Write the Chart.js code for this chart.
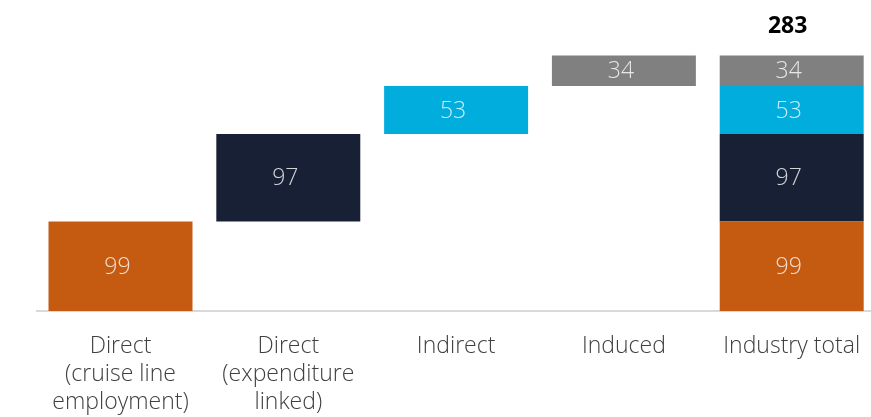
<!DOCTYPE html>
<html>
<head>
<meta charset="utf-8">
<script src="https://cdn.jsdelivr.net/npm/chart.js@4"></script>
<style>
  html, body { margin: 0; padding: 0; background: #fff; overflow: hidden; }
  #wrap { position: relative; width: 880px; height: 417px; }
</style>
</head>
<body>
<div id="wrap"><canvas id="chart"></canvas></div>
<script>
// categories and component values (thousands of jobs)
const categories = [
  ['Direct', '(cruise line', 'employment)'],
  ['Direct', '(expenditure', 'linked)'],
  'Indirect',
  'Induced',
  'Industry total'
];
const componentNames = ['Direct (cruise line employment)', 'Direct (expenditure linked)', 'Indirect', 'Induced'];
const componentValues = [99, 97, 53, 34];
const componentColors = ['#C55A11', '#182035', '#00ADDC', '#808080'];
const totalLabel = 283;

// build floating bars: each component floats in its own column and stacks in the total column
const datasets = [];
let running = 0;
componentValues.forEach((v, i) => {
  const range = [running, running + v];
  const data = categories.map((c, j) => (j === i || j === categories.length - 1) ? range : null);
  datasets.push({
    label: componentNames[i],
    data: data,
    backgroundColor: componentColors[i],
    borderWidth: 0,
    grouped: false,
    barPercentage: 0.858,
    categoryPercentage: 1
  });
  running += v;
});

const font = "'Open Sans', 'DejaVu Sans', sans-serif";

const valueLabels = {
  id: 'valueLabels',
  afterDatasetsDraw(chart) {
    const ctx = chart.ctx;
    ctx.save();
    ctx.textAlign = 'center';
    ctx.textBaseline = 'middle';
    ctx.font = '300 23px ' + font;
    ctx.fillStyle = 'rgba(255,255,255,0.8)';
    chart.data.datasets.forEach((ds, i) => {
      chart.getDatasetMeta(i).data.forEach((bar, j) => {
        if (!ds.data[j]) return;
        const mid = (bar.y + bar.base) / 2;
        ctx.fillText(componentValues[i], bar.x - 3, mid + 1);
      });
    });
    // total label above the last column
    const last = chart.getDatasetMeta(chart.data.datasets.length - 1).data[categories.length - 1];
    ctx.font = 'bold 23px ' + font;
    ctx.fillStyle = '#000';
    ctx.textBaseline = 'alphabetic';
    ctx.fillText(totalLabel, last.x - 4, last.y - 22);
    ctx.restore();
  }
};

new Chart(document.getElementById('chart'), {
  type: 'bar',
  data: { labels: categories, datasets: datasets },
  options: {
    responsive: true,
    maintainAspectRatio: false,
    animation: false,
    layout: { padding: { left: 36.6, right: 4.4, top: 31, bottom: 0 } },
    plugins: { legend: { display: false }, tooltip: { enabled: false } },
    scales: {
      x: {
        grid: { display: false },
        border: { display: true, color: '#d9d9d9', width: 2 },
        ticks: {
          color: '#404040',
          font: { family: font, size: 23, weight: '300', lineHeight: 1.22 },
          padding: 13,
          maxRotation: 0,
          autoSkip: false
        },
        afterFit(scale) { scale.height = 106; }
      },
      y: {
        display: false,
        min: 0,
        max: 310
      }
    }
  },
  plugins: [valueLabels]
});
</script>
</body>
</html>
